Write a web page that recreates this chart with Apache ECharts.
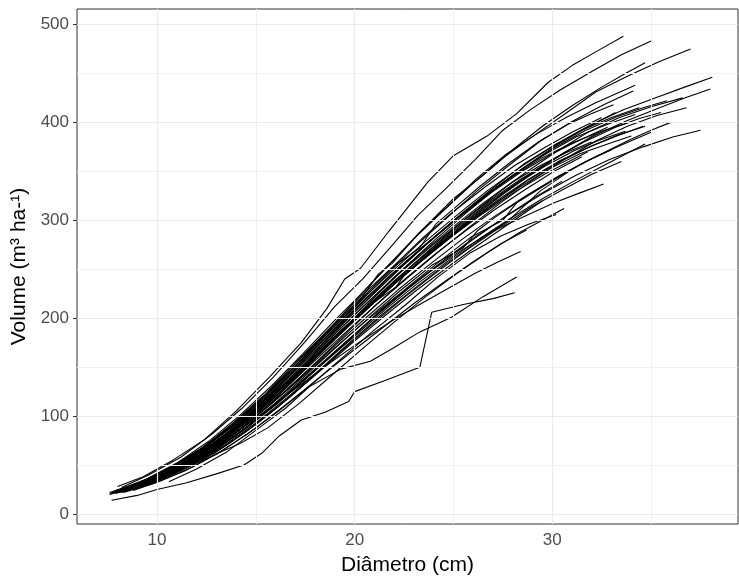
<!DOCTYPE html>
<html>
<head>
<meta charset="utf-8">
<script src="https://cdn.jsdelivr.net/npm/echarts@6/dist/echarts.min.js"></script>
<style>
  html, body { margin: 0; padding: 0; background: #fff; }
  #chart { width: 739px; height: 581px; }
</style>
</head>
<body>
<div id="chart"></div>
<script>
// [diametro, volume] por parcela
const tree01 = [[8.0,28],[9.3,38],[10.8,55],[12.4,76],[14.0,105],[15.7,140],[17.3,175],[18.6,210],[19.5,240],[20.3,251],[21.7,288],[23.7,339],[25.0,366],[26.7,386],[28.2,409],[29.8,441],[31.0,458],[32.2,472],[33.6,488]];
const tree02 = [[8.2,27],[9.6,40],[11.2,58],[12.8,82],[14.3,108],[15.9,140],[17.5,176],[19.0,212],[20.4,240],[21.8,272],[23.2,305],[24.6,332],[26.1,362],[27.5,392],[28.9,413],[30.4,433],[32.0,452],[33.5,469],[35.0,483]];
const tree03 = [[7.9,24],[9.2,33],[10.7,48],[12.3,68],[13.9,93],[15.6,124],[17.2,158],[18.8,190],[20.2,222],[21.6,252],[23.1,283],[24.5,310],[26.0,338],[27.6,365],[29.1,387],[30.6,408],[32.2,431],[33.8,447],[35.4,462],[37.0,475]];
const tree04 = [[8.1,25],[9.5,36],[11.0,52],[12.6,74],[14.2,101],[15.8,131],[17.4,164],[19.0,198],[20.5,228],[22.0,260],[23.5,292],[25.0,322],[26.5,346],[28.0,372],[29.5,396],[31.0,417],[32.5,436],[33.7,450],[34.7,461]];
const tree05 = [[7.6,22],[9.0,31],[10.5,45],[12.1,64],[13.8,89],[15.5,118],[17.2,151],[18.9,185],[20.5,216],[22.1,247],[23.7,277],[25.3,305],[27.0,333],[28.6,358],[30.2,378],[31.9,397],[33.6,413],[35.2,425],[36.7,436],[38.1,446]];
const tree06 = [[8.3,24],[9.7,34],[11.3,49],[12.9,69],[14.5,94],[16.1,122],[17.8,155],[19.4,186],[21.0,216],[22.6,246],[24.2,274],[25.8,300],[27.4,325],[29.0,348],[30.6,369],[32.2,387],[33.8,402],[35.3,414],[36.7,425],[38.0,434]];
const tree07 = [[8.0,23],[9.4,33],[10.9,48],[12.5,69],[14.1,95],[15.7,125],[17.3,158],[18.9,192],[20.4,222],[21.2,245],[21.9,256],[23.3,288],[24.8,316],[26.2,343],[27.7,368],[29.2,388],[30.7,405],[32.2,420],[34.2,438]];
const tree08 = [[7.8,22],[9.2,31],[10.7,46],[12.2,66],[13.8,90],[15.4,119],[17.0,151],[18.6,184],[20.2,215],[21.7,246],[23.2,276],[24.7,303],[26.2,330],[27.8,356],[29.4,381],[31.0,401],[32.6,418],[34.1,432]];
const tree09 = [[8.4,25],[9.8,35],[11.4,50],[13.0,70],[14.6,95],[16.2,123],[17.8,153],[19.4,183],[21.0,212],[22.6,240],[24.2,267],[25.8,293],[27.4,318],[29.0,341],[30.6,362],[32.2,381],[33.8,396],[35.3,407],[36.8,415]];
const tree10 = [[7.7,21],[9.1,30],[10.6,43],[12.2,62],[13.9,86],[15.6,115],[17.3,147],[19.0,180],[20.6,211],[22.2,241],[23.8,270],[25.4,298],[27.0,324],[28.6,348],[30.2,370],[31.8,390],[33.4,405],[35.0,416],[36.6,425]];
const tree11 = [[8.0,24],[9.4,34],[10.9,49],[12.4,69],[14.0,94],[15.6,123],[17.2,155],[18.8,188],[20.3,219],[21.8,250],[23.3,272],[24.1,296],[24.8,308],[26.3,334],[27.8,358],[29.3,380],[30.8,398],[32.0,409],[33.1,418]];
const tree12 = [[8.6,26],[10.0,37],[11.5,52],[13.1,72],[14.7,97],[16.3,126],[17.9,158],[19.5,190],[21.0,221],[22.5,251],[24.0,279],[25.5,305],[27.0,330],[28.5,353],[30.0,374],[31.6,393],[33.2,410]];
const tree13 = [[7.9,22],[9.3,31],[10.8,45],[12.4,64],[14.0,88],[15.7,117],[17.4,149],[19.1,181],[20.7,211],[22.3,240],[23.9,267],[25.5,293],[27.1,317],[28.7,340],[30.3,359],[31.9,375],[33.3,387],[34.7,396]];
const tree14 = [[8.2,23],[9.7,33],[11.3,47],[12.9,66],[14.6,90],[16.3,118],[18.0,148],[19.7,178],[21.3,207],[22.9,234],[24.5,259],[26.1,283],[27.8,306],[29.5,327],[31.2,346],[32.9,362],[34.6,375],[36.1,385],[37.5,392]];
const tree15 = [[8.1,24],[9.5,34],[11.0,48],[12.6,67],[14.2,91],[15.8,119],[17.4,150],[19.0,181],[20.6,211],[22.1,232],[22.8,252],[23.6,265],[25.1,290],[26.6,314],[28.1,336],[29.6,355],[31.1,371],[32.4,382],[33.7,391]];
const tree16 = [[8.5,25],[9.9,35],[11.5,49],[13.1,68],[14.8,92],[16.5,120],[18.2,150],[19.9,180],[21.5,208],[23.1,234],[24.7,258],[26.3,281],[27.9,302],[29.5,322],[31.1,340],[32.7,357],[34.7,378]];
const tree17 = [[8.0,22],[9.4,31],[10.9,44],[12.5,62],[14.1,85],[15.7,111],[17.3,139],[18.9,168],[20.5,196],[22.1,222],[23.7,246],[25.3,268],[26.9,288],[28.5,303],[30.1,318],[31.4,328],[32.6,337]];
const tree18 = [[8.3,22],[9.8,31],[11.4,44],[13.0,61],[14.6,82],[16.2,106],[17.8,132],[19.4,160],[21.0,188],[22.6,214],[24.2,242],[25.8,266],[27.4,284],[28.8,296],[30.2,306]];
const tree19 = [[8.8,24],[10.2,34],[11.8,48],[13.4,66],[15.0,88],[16.6,113],[18.2,139],[19.8,165],[21.4,190],[23.0,215],[24.6,238],[26.1,259],[27.4,276],[28.7,290]];
const tree20 = [[10.4,38],[11.8,54],[13.2,72],[14.6,92],[16.0,113],[17.4,134],[18.8,155],[20.2,175],[21.7,195],[23.2,213],[24.7,230],[26.1,246],[27.3,258],[28.4,268]];
const tree21 = [[10.6,33],[12.0,46],[13.5,63],[15.3,90],[16.5,108],[17.7,130],[19.3,148],[20.8,156],[22.0,170],[23.3,186],[24.9,201],[26.5,222],[28.2,242]];
const tree22 = [[7.7,14],[9.0,19],[10.0,25],[11.5,32],[13.0,41],[14.4,50],[15.3,62],[16.2,80],[17.3,96],[18.5,104],[19.7,115],[20.0,125],[21.5,136],[23.3,150],[23.9,206],[25.5,214],[27.0,220],[28.1,226]];
const tree23 = [[7.8,22],[9.2,31],[10.7,47],[12.3,67],[13.9,94],[15.5,123],[17.1,156],[18.7,189],[20.3,222],[21.9,252],[23.5,283],[25.0,309],[26.6,334],[28.1,356],[29.6,374],[31.0,390],[32.5,405]];
const tree24 = [[8.4,24],[9.8,34],[11.3,48],[12.8,66],[14.4,90],[16.0,118],[17.6,150],[19.2,183],[20.8,213],[22.4,242],[24.0,270],[25.6,296],[27.2,320],[28.8,342],[30.4,361],[32.0,376],[33.4,387],[34.6,396]];
const tree25 = [[7.6,21],[9.0,29],[10.5,42],[12.0,60],[13.6,84],[15.2,112],[16.8,144],[18.4,177],[20.0,209],[21.6,240],[23.2,268],[24.8,296],[26.4,322],[28.0,346],[29.6,367],[31.2,385],[32.8,398],[34.2,408]];
const tree26 = [[8.2,25],[9.6,35],[11.1,50],[12.7,70],[14.3,95],[15.9,124],[17.5,150],[18.2,170],[19.0,188],[20.5,218],[22.0,247],[23.5,274],[25.0,299],[26.5,323],[28.0,345],[29.5,364],[31.0,379],[32.5,391],[33.9,400]];
const tree27 = [[8.0,23],[9.4,32],[10.9,46],[12.4,65],[14.0,89],[15.6,117],[17.2,148],[18.8,180],[20.4,211],[21.9,240],[23.4,267],[24.9,292],[26.4,316],[27.9,338],[29.4,356],[30.8,370],[32.0,380]];
const tree28 = [[8.7,26],[10.1,36],[11.6,51],[13.2,71],[14.8,96],[16.4,124],[18.0,154],[19.6,185],[21.1,214],[22.6,241],[24.1,266],[25.6,289],[27.1,311],[28.6,331],[30.1,350],[31.5,365]];
const tree29 = [[7.9,21],[9.3,30],[10.8,44],[12.4,63],[14.0,87],[15.6,115],[17.2,146],[18.8,178],[20.4,208],[22.0,238],[23.6,266],[25.2,293],[26.8,318],[28.4,341],[30.0,362],[31.6,380],[33.2,395],[34.4,404],[35.5,410]];
const tree30 = [[8.3,23],[9.7,32],[11.2,45],[12.8,63],[14.4,86],[16.1,113],[17.8,143],[19.5,174],[21.1,204],[22.7,232],[24.3,258],[25.9,283],[27.5,300],[28.2,318],[29.1,329],[30.7,349],[32.3,366],[33.9,382],[35.0,392],[36.0,400]];
const tree31 = [[8.1,22],[9.5,31],[11.0,45],[12.6,63],[14.2,86],[15.8,113],[17.4,142],[19.0,172],[20.6,201],[22.2,229],[23.8,255],[25.4,280],[27.0,303],[28.6,324],[30.2,343],[31.6,359],[33.0,372]];
const tree32 = [[7.7,21],[9.1,30],[10.6,43],[12.2,62],[13.8,85],[15.4,112],[17.0,142],[18.6,173],[20.2,204],[21.8,233],[23.4,260],[25.0,286],[26.6,310],[28.2,332],[29.8,352],[31.4,368],[32.8,378],[34.0,386]];
const tree33 = [[8.5,27],[9.9,38],[11.4,53],[13.0,74],[14.6,100],[16.2,130],[17.8,162],[19.4,194],[20.9,224],[22.4,253],[23.9,280],[25.4,305],[26.9,328],[28.4,349],[29.9,367],[31.4,382],[32.8,395]];
const tree34 = [[8.0,24],[9.4,34],[10.9,49],[12.5,69],[14.1,94],[15.7,123],[17.3,155],[18.9,188],[20.5,219],[22.1,249],[23.7,277],[25.3,304],[26.9,330],[28.5,353],[30.1,374],[31.7,392],[33.3,406],[34.6,415],[35.8,422]];
const tree35 = [[8.9,27],[10.3,37],[11.8,51],[13.4,70],[15.0,93],[16.6,119],[18.2,147],[19.8,176],[21.4,204],[23.0,230],[24.6,255],[26.2,278],[27.8,300],[29.4,330],[31.0,352]];
const tree36 = [[8.4,23],[9.8,32],[11.3,45],[12.9,62],[14.5,84],[16.1,109],[17.7,137],[19.3,166],[20.9,194],[22.5,221],[24.1,246],[25.7,270],[27.3,292],[28.9,313],[30.5,331],[32.0,347],[33.5,360]];
const tree37 = [[8.6,25],[10.0,35],[11.5,49],[13.1,68],[14.7,91],[16.3,117],[17.9,146],[19.5,175],[21.1,203],[22.7,230],[24.3,255],[25.9,279],[27.5,302],[29.0,322],[30.5,340]];
const tree38 = [[9.0,27],[10.4,37],[11.9,51],[13.5,70],[15.1,93],[16.7,119],[18.3,147],[19.9,175],[21.5,202],[23.1,228],[24.7,252],[26.2,274],[27.7,295],[29.5,320]];
const tree39 = [[8.2,22],[9.6,31],[11.1,44],[12.7,62],[14.3,85],[15.9,112],[17.5,141],[19.1,171],[20.7,200],[22.3,228],[23.9,254],[25.5,272],[26.2,289],[27.1,303],[28.7,325],[30.3,345],[31.9,362],[33.5,377],[35.0,390]];
const tree40 = [[7.8,23],[9.2,32],[10.7,47],[12.3,67],[13.9,92],[15.5,121],[17.1,153],[18.7,186],[20.3,218],[21.9,248],[23.5,277],[25.1,304],[26.7,330],[28.3,353],[29.9,374],[31.5,392],[33.0,405],[34.4,415]];
const tree41 = [[8.3,25],[9.7,35],[11.2,50],[12.8,70],[14.4,95],[16.0,124],[17.6,156],[19.2,188],[20.8,219],[22.4,248],[23.9,274],[25.4,298],[26.9,321],[28.4,342],[29.9,360],[31.1,375],[32.2,388]];
const tree42 = [[7.6,20],[9.0,28],[10.5,41],[12.1,59],[13.7,82],[15.3,109],[16.9,139],[18.5,170],[20.1,201],[21.7,230],[23.3,257],[24.9,283],[26.5,307],[28.1,329],[29.7,348],[31.8,370]];
const tree43 = [[10.5,38],[11.9,51],[13.3,64],[14.2,72],[15.6,88],[17.2,113],[18.8,141],[20.4,169],[22.0,196],[23.6,222],[25.2,246],[26.8,268],[28.3,287],[29.5,300],[30.6,312]];

const trees = [
  tree01, tree02, tree03, tree04, tree05, tree06, tree07, tree08, tree09, tree10,
  tree11, tree12, tree13, tree14, tree15, tree16, tree17, tree18, tree19, tree20,
  tree21, tree22, tree23, tree24, tree25, tree26, tree27, tree28, tree29, tree30,
  tree31, tree32, tree33, tree34, tree35, tree36, tree37, tree38, tree39, tree40,
  tree41, tree42, tree43,
];

const xTicks = [10, 20, 30];
const xMinor = [15, 25, 35];
const yTicks = [0, 100, 200, 300, 400, 500];
const yMinor = [50, 150, 250, 350, 450];

const myChart = echarts.init(document.getElementById("chart"));

const gridLines = (axis, values, color, width) => ({
  type: "line",
  data: [],
  silent: true,
  z: 1,
  markLine: {
    silent: true,
    symbol: "none",
    animation: false,
    label: { show: false },
    lineStyle: { color: color, width: width, type: "solid" },
    data: values.map((v) => ({ [axis]: v })),
  },
});

const option = {
  animation: false,
  grid: {
    left: 77,
    right: 1,
    top: 9,
    bottom: 55,
    show: true,
    borderColor: "#333333",
    borderWidth: 1,
    backgroundColor: "transparent",
  },
  xAxis: {
    type: "value",
    min: 5.95,
    max: 39.4,
    name: "Diâmetro (cm)",
    nameLocation: "middle",
    nameGap: 31,
    nameTextStyle: { color: "#000", fontSize: 21, fontFamily: "Liberation Sans" },
    axisLine: { show: false },
    splitLine: { show: false },
    axisTick: { show: true, customValues: xTicks, length: 4, lineStyle: { color: "#333333" } },
    axisLabel: {
      customValues: xTicks,
      color: "#4D4D4D",
      fontSize: 17,
      fontFamily: "Liberation Sans",
      margin: 8,
    },
  },
  yAxis: {
    type: "value",
    min: -10.2,
    max: 515.8,
    name: "Volume (m³ ha-¹)",
    nameLocation: "middle",
    nameGap: 38,
    nameTextStyle: { color: "#000", fontSize: 21, fontFamily: "Liberation Sans" },
    axisLine: { show: false },
    splitLine: { show: false },
    axisTick: { show: true, customValues: yTicks, length: 4, lineStyle: { color: "#333333" } },
    axisLabel: {
      customValues: yTicks,
      color: "#4D4D4D",
      fontSize: 17,
      fontFamily: "Liberation Sans",
      margin: 8,
    },
  },
  series: [
    gridLines("xAxis", xMinor, "#F0F0F0", 1),
    gridLines("yAxis", yMinor, "#F0F0F0", 1),
    gridLines("xAxis", xTicks, "#EBEBEB", 1.2),
    gridLines("yAxis", yTicks, "#EBEBEB", 1.2),
    ...trees.map((tree) => ({
      type: "line",
      data: tree,
      showSymbol: false,
      silent: true,
      z: 3,
      lineStyle: { color: "#000000", width: 1.1 },
    })),
  ],
};

myChart.setOption(option);
</script>
</body>
</html>
